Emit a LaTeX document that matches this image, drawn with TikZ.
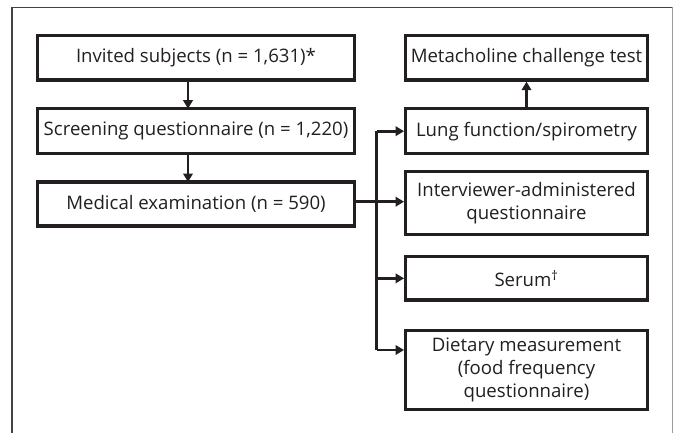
\documentclass[tikz,border=0pt]{standalone}
\usepackage{fontspec}
\setmainfont{Open Sans}
\usetikzlibrary{arrows.meta}
\definecolor{ink}{HTML}{231F20}
\begin{document}
\begin{tikzpicture}[x=1pt,y=-1pt,
  box/.style={draw=ink,line width=3.3pt,text=ink,align=center,inner sep=0pt,font=\fontsize{18.6}{22.6}\selectfont},
  conn/.style={draw=ink,line width=2.6pt,-{Triangle[length=8.5pt,width=9.5pt]}},
  wire/.style={draw=ink,line width=2.6pt}]
\useasboundingbox (0,0) rectangle (674,433);
\fill[white] (0,0) rectangle (674,433);
% frame
\draw[draw=ink!85,line width=1.3pt] (12,440) -- (12,7.5) -- (672,7.5);
\draw[draw=ink!45,line width=0.9pt] (672,7.5) -- (672,440);
% left column
\node[box,minimum width=316.6pt,minimum height=44.3pt] (inv) at (196,57.85) {Invited subjects (n = 1,631)*};
\node[box,minimum width=316.6pt,minimum height=45pt] (scr) at (196,131.2) {Screening questionnaire (n = 1,220)};
\node[box,minimum width=316.6pt,minimum height=44pt] (med) at (196,204) {Medical examination (n = 590)};
% right column
\node[box,minimum width=241.6pt,minimum height=44.3pt] (met) at (526.5,57.85) {Metacholine challenge test};
\node[box,minimum width=241.6pt,minimum height=45pt] (lung) at (526.5,131.2) {Lung function/spirometry};
\node[box,minimum width=241.6pt,minimum height=62.6pt] (int) at (526.5,203) {Interviewer-administered\\questionnaire};
\node[box,minimum width=241.6pt,minimum height=43.3pt] (ser) at (526.5,278.35) {Serum\textsuperscript{†}};
\node[box,minimum width=241.6pt,minimum height=78.6pt] (diet) at (526.5,370) {Dietary measurement\\(food frequency\\questionnaire)};
% connectors
\coordinate (j) at (376.7,201.7);
\coordinate (dj) at (376.7,350);
\draw[conn] (188,80) -- (188,108.7);
\draw[conn] (188,153.7) -- (188,182);
\draw[conn] (lung.north) -- (met.south);
\draw[conn] (med.east |- j) -- (int.west |- j);
\draw[wire] (j |- lung) -- (dj);
\draw[conn] (j |- lung) -- (lung.west);
\draw[conn] (j |- ser) -- (ser.west);
\draw[conn] (dj) -- (diet.west |- dj);
\end{tikzpicture}
\end{document}
